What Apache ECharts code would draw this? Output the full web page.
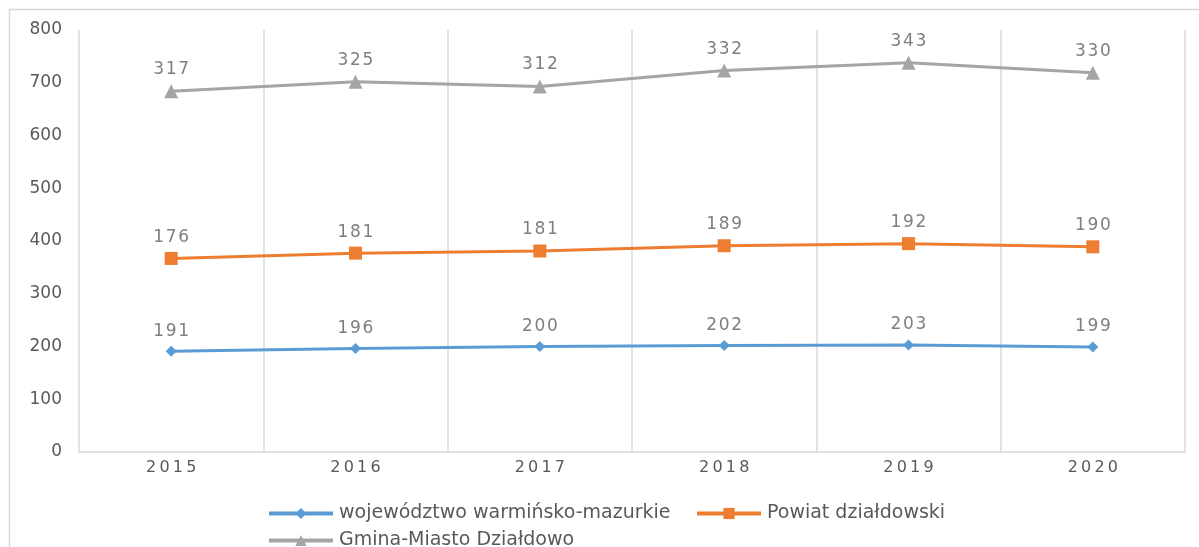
<!DOCTYPE html>
<html><head><meta charset="utf-8">
<script src="https://cdn.jsdelivr.net/npm/echarts@6/dist/echarts.min.js"></script>
<style>html,body{margin:0;padding:0;background:#fff}#c{width:1199px;height:547px}</style>
</head><body><div id="c"></div>
<script>
const years = ['2015','2016','2017','2018','2019','2020'];
const wojewodztwo = [191,196,200,202,203,199];
const powiat = [176,181,181,189,192,190];
const gmina = [317,325,312,332,343,330];
const yTicks = [0,100,200,300,400,500,600,700,800];
const names = ['województwo warmińsko-mazurkie','Powiat działdowski','Gmina-Miasto Działdowo'];

const sp = (s, c) => String(s).split('').join(c);
const font = '"DejaVu Sans", sans-serif';
const chart = echarts.init(document.getElementById('c'));
function ser(name, data, color, symbol, size){
  return {name, type:'line', stack:'total', data, symbol, symbolSize:size,
    lineStyle:{color, width:3}, itemStyle:{color},
    label:{show:true, position:'top', distance:6, color:'#7f7f7f', fontSize:17, fontFamily:font,
      formatter:p=>sp(p.value, '\u200A')}};
}
function leg(name, left, top){
  return {data:[name], left, top, padding:0, itemWidth:64, itemHeight:14, itemGap:0,
    lineStyle:{width:4},
    textStyle:{color:'#595959', fontSize:19, fontFamily:font, padding:[0,0,0,1]}};
}
chart.setOption({
  animation:false,
  textStyle:{fontFamily:font},
  grid:{left:79, right:14, top:30, bottom:95, containLabel:false},
  xAxis:{type:'category', data:years, boundaryGap:true,
    axisLine:{lineStyle:{color:'#d9d9d9', width:1.5}}, axisTick:{show:false},
    axisLabel:{color:'#595959', fontSize:16, margin:8, fontFamily:font, formatter:v=>sp(v, '\u2009')},
    splitLine:{show:true, lineStyle:{color:'#d9d9d9', width:1.5}}},
  yAxis:{type:'value', min:yTicks[0], max:yTicks[yTicks.length-1], interval:100,
    axisLine:{show:false}, axisTick:{show:false}, splitLine:{show:false},
    axisLabel:{color:'#595959', fontSize:17, margin:17, fontFamily:font}},
  legend:[ leg(names[0], 267, 504), leg(names[1], 695, 504), leg(names[2], 267, 531) ],
  graphic:[{type:'rect', shape:{x:9.5, y:9.5, width:1300, height:700}, style:{fill:'none', stroke:'#d9d9d9', lineWidth:1.5}, silent:true}],
  series:[
    ser(names[0], wojewodztwo, '#5b9bd5', 'diamond', 11),
    ser(names[1], powiat, '#ed7d31', 'rect', 13),
    ser(names[2], gmina, '#a5a5a5', 'triangle', 14)
  ]
});
</script></body></html>
